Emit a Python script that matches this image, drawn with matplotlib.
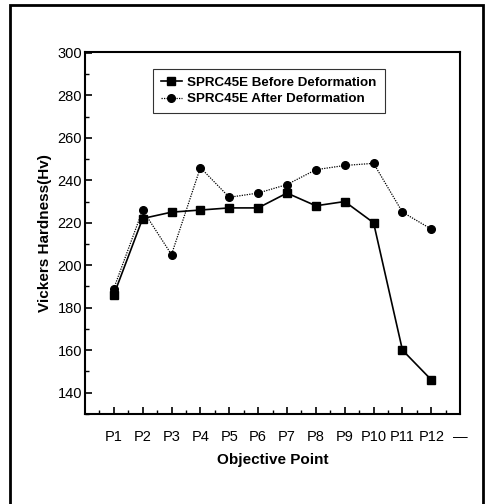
import matplotlib.pyplot as plt
from matplotlib.patches import Rectangle
from matplotlib.ticker import MultipleLocator

plt.rcParams['font.family'] = ['Liberation Sans', 'DejaVu Sans']

points = ["P1", "P2", "P3", "P4", "P5", "P6", "P7", "P8", "P9", "P10", "P11", "P12"]
before = [186, 222, 225, 226, 227, 227, 234, 228, 230, 220, 160, 146]
after = [189, 226, 205, 246, 232, 234, 238, 245, 247, 248, 225, 217]
tick_labels = [""] + points + ["\u2014"]

fig = plt.figure(figsize=(4.88, 5.04), dpi=100)
ax = fig.add_axes([0.174, 0.179, 0.769, 0.718])

x = list(range(1, len(points) + 1))
ax.plot(x, before, "-", color="black", lw=1.2, marker="s", ms=5.5,
        label="SPRC45E Before Deformation")
ax.plot(x, after, color="black", lw=0.9, ls=(0, (1, 1)), marker="o", ms=5.5,
        label="SPRC45E After Deformation")

ax.set_xlim(0, 13)
ax.set_ylim(130, 300.5)
ax.set_xticks(range(0, 14))
ax.set_xticklabels(tick_labels, fontsize=10.5)
ax.xaxis.set_minor_locator(MultipleLocator(0.5))
ax.yaxis.set_minor_locator(MultipleLocator(10))
ax.set_yticks(range(140, 301, 20))
ax.tick_params(axis="y", labelsize=10.5, pad=2)
ax.tick_params(which="major", direction="in", length=5, width=1.2)
ax.tick_params(which="minor", direction="in", length=3, width=1)
ax.tick_params(axis="x", pad=12)
for s in ax.spines.values():
    s.set_linewidth(1.5)

ax.set_xlabel("Objective Point", fontsize=11, fontweight="bold", labelpad=6)
ax.set_ylabel("Vickers Hardness(Hv)", fontsize=11, fontweight="bold", labelpad=4)

leg = ax.legend(loc="upper center", bbox_to_anchor=(0.49, 0.972),
                frameon=True, fancybox=False, edgecolor="black",
                handlelength=1.6, handletextpad=0.4, borderpad=0.6,
                labelspacing=0.3, prop={"weight": "bold", "size": 9.6})
leg.get_frame().set_linewidth(0.8)

# outer frame around the whole figure
fig.patches.append(Rectangle((10 / 488, -0.02), 473 / 488, 1.0 - 5 / 504 + 0.02,
                             transform=fig.transFigure, fill=False,
                             edgecolor="black", lw=2))

fig.savefig("out.png", dpi=100)
